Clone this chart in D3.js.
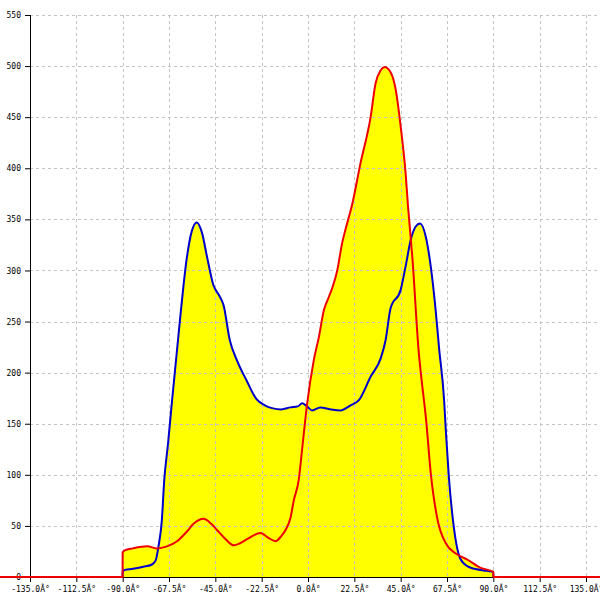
<!DOCTYPE html>
<html>
<head>
<meta charset="utf-8">
<script src="https://cdn.jsdelivr.net/npm/d3@7"></script>
<style>
  html, body { margin: 0; padding: 0; background: #fff; }
  svg { display: block; }
  text { font-family: "DejaVu Sans Mono", monospace; font-size: 8px; fill: #000; }
</style>
</head>
<body>
<svg id="chart" width="600" height="600"></svg>
<script>
// ---- data ----
const xTicks = [-135, -112.5, -90, -67.5, -45, -22.5, 0, 22.5, 45, 67.5, 90, 112.5, 135];
const xTickLabels = ["-135.0Â°", "-112.5Â°", "-90.0Â°", "-67.5Â°", "-45.0Â°", "-22.5Â°", "0.0Â°",
                     "22.5Â°", "45.0Â°", "67.5Â°", "90.0Â°", "112.5Â°", "135.0Â°"];
const yTicks = [0, 50, 100, 150, 200, 250, 300, 350, 400, 450, 500, 550];

const blueAngles = [-90.05, -90, -88.8, -85, -80, -76, -74, -72.6, -71, -69.8, -68, -66, -62, -59, -56.5, -54,
  -51.5, -49, -46, -43, -41, -38, -34.5, -30, -25, -21, -17, -13, -8.5, -5, -2.8, 0, 2, 6, 11,
  15.8, 20.7, 24.7, 30.4, 35.3, 37.7, 40.1, 45, 47.4, 49.9, 52.3, 54.4, 57.2, 59.6, 62, 63.6,
  66.1, 67, 68.4, 70.8, 74.2, 79, 87, 90, 90.05];
const blueValues = [0, 5, 7, 8, 10, 12, 16, 30, 55, 95, 130, 173, 255, 310, 338, 347,
  337, 313, 286, 275, 266, 232, 212, 193, 174, 168, 165, 164, 166, 167, 170, 166, 163, 166, 164,
  163, 168, 173, 196, 214, 232, 263, 281, 304, 330, 343, 346, 333, 304, 261, 225,
  173, 141, 98, 49, 17, 9, 6, 5, 0];

const redAngles = [-150, -90.05, -90, -89, -85, -78, -73.4, -68.5, -63.6, -59, -55.6, -50.7, -47, -44.2,
  -40, -36.1, -33, -29.6, -23.1, -19, -15.8, -13, -10.9, -8.5, -6.9, -4.5, -2.8, -0.4, 2.8,
  5.3, 7.7, 10.1, 11.8, 14.2, 16.6, 18.2, 21.5, 25.5, 30.4, 32.8, 35.3, 37.2, 40.1, 42.6, 45,
  47.4, 48.6, 50.7, 53.7, 56.3, 57.2, 59.6, 62.9, 66.9, 71.8, 77.4, 83.9, 90, 90.05, 150];
const redValues = [0, 0, 24, 26, 28, 30, 28, 30, 35, 44, 52, 57, 52, 46,
  37, 31, 33, 37, 43, 38, 35, 40, 46, 58, 75, 95, 126, 170, 212,
  235, 261, 274, 283, 300, 327, 340, 365, 405, 450, 483, 496, 499, 494, 477, 441,
  395, 362, 312, 222, 173, 157, 102, 56, 33, 23, 17, 9, 5, 0, 0];

// ---- chart ----
const svg = d3.select("#chart");
const x = d3.scaleLinear().domain([-135, 135]).range([30, 586]);
const y = d3.scaleLinear().domain([0, 550]).range([577, 15]);

const blue = blueAngles.map((a, i) => [a, blueValues[i]]);
const red = redAngles.map((a, i) => [a, redValues[i]]);

const curve = d3.curveMonotoneX;
const area = d3.area().x(d => x(d[0])).y0(y(0)).y1(d => y(d[1])).curve(curve);
const line = d3.line().x(d => x(d[0])).y(d => y(d[1])).curve(curve);

// fills
svg.append("path").attr("d", area(blue)).attr("fill", "#ffff00");
svg.append("path").attr("d", area(red)).attr("fill", "#ffff00");

// grid
const grid = svg.append("g").attr("stroke", "#c4c4c4").attr("stroke-dasharray", "3,3").attr("stroke-width", 1);
grid.selectAll(".hg").data(yTicks.filter(d => d > 0)).enter().append("line")
  .attr("x1", 30).attr("x2", 600)
  .attr("y1", d => Math.round(y(d)) + 0.5).attr("y2", d => Math.round(y(d)) + 0.5);
grid.selectAll(".vg").data(xTicks.filter(d => d > -135)).enter().append("line")
  .attr("y1", 15).attr("y2", 577)
  .attr("x1", d => Math.round(x(d)) + 0.5).attr("x2", d => Math.round(x(d)) + 0.5);

// axes
const xAxis = d3.axisBottom(x).tickValues(xTicks).tickFormat((d, i) => xTickLabels[i])
  .tickSizeInner(5).tickSizeOuter(0).tickPadding(4);
const gx = svg.append("g").attr("transform", `translate(0,${y(0)})`).call(xAxis);
gx.select(".domain").attr("d", `M30,0.5H600`).attr("stroke", "#000");
gx.selectAll("text").style("font-family", "DejaVu Sans Mono, monospace").style("font-size", "8px");

const yAxis = d3.axisLeft(y).tickValues(yTicks).tickSizeInner(5).tickSizeOuter(0).tickPadding(4);
const gy = svg.append("g").attr("transform", `translate(30,0)`).call(yAxis);
gy.select(".domain").attr("d", `M0.5,15V582`).attr("stroke", "#000");
gy.selectAll("text").style("font-family", "DejaVu Sans Mono, monospace").style("font-size", "8px");

// lines
svg.append("path").attr("d", line(blue)).attr("fill", "none").attr("stroke", "#0000cc").attr("stroke-width", 2);
svg.append("path").attr("d", line(red)).attr("fill", "none").attr("stroke", "#ee0000").attr("stroke-width", 2);
</script>
</body>
</html>
